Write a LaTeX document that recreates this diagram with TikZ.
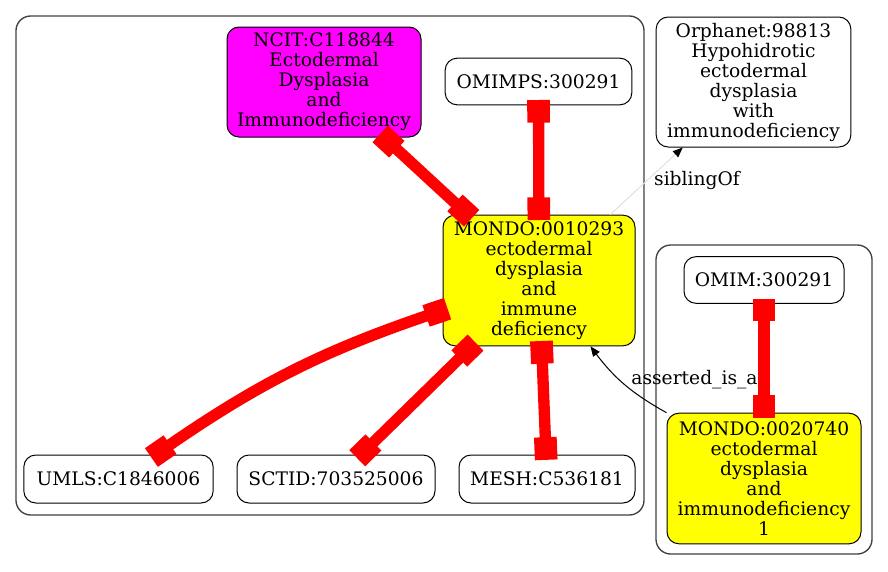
\documentclass[tikz,border=0pt]{standalone}
\usepackage{fontspec}
\setmainfont{DejaVu Serif}
\usepackage{xcolor}
\usepackage{tikz}
\usetikzlibrary{arrows.meta,positioning}
\definecolor{gvred}{HTML}{FF0000}
\definecolor{gvyellow}{HTML}{FFFF00}
\definecolor{gvmagenta}{HTML}{FF00FF}
\definecolor{gvgrey}{HTML}{404040}
\definecolor{gvfaint}{HTML}{E0E0E0}

\begin{document}
\begin{tikzpicture}[
  x=0.75pt, y=-0.75pt,
  font=\fontsize{14}{15}\selectfont,
  n/.style={draw, line width=0.75pt, rounded corners=9pt, align=center, inner sep=0pt, fill=white},
  hit/.style={n, fill=gvyellow},
  ext/.style={n, fill=gvmagenta},
  clu/.style={draw=gvgrey, line width=1pt, rounded corners=11pt},
  xref/.style={draw=gvred, line width=8.5pt, shorten <=-4pt, shorten >=-4pt, {Rectangle[length=17pt,width=17pt]}-{Rectangle[length=17pt,width=17pt]}},
  rel/.style={draw=black, line width=0.75pt, -{Triangle[length=7.5pt,width=6pt]}},
  lbl/.style={inner sep=0pt}
]
\useasboundingbox (0,0) rectangle (888,571);
% clusters
\draw[clu] (16,16) rectangle (644,515);
\draw[clu] (656,245) rectangle (872,554);
% nodes
\node[ext, minimum width=145.5pt, minimum height=82.5pt] (ncit) at (324,82) {NCIT:C118844\\Ectodermal\\Dysplasia\\and\\Immunodeficiency};
\node[n, minimum width=140pt, minimum height=35pt] (omimps) at (538.5,81.5) {OMIMPS:300291};
\node[hit, minimum width=144pt, minimum height=98pt] (mondoa) at (539,280.5) {MONDO:0010293\\ectodermal\\dysplasia\\and\\immune\\deficiency};
\node[n, minimum width=142pt, minimum height=36pt] (umls) at (118.5,479) {UMLS:C1846006};
\node[n, minimum width=148.5pt, minimum height=36pt] (sctid) at (336,479) {SCTID:703525006};
\node[n, minimum width=132pt, minimum height=36pt] (mesh) at (547,479) {MESH:C536181};
\node[n, minimum width=146pt, minimum height=97.5pt] (orpha) at (753.5,82) {Orphanet:98813\\Hypohidrotic\\ectodermal\\dysplasia\\with\\immunodeficiency};
\node[n, minimum width=120pt, minimum height=35pt] (omim) at (764,280) {OMIM:300291};
\node[hit, minimum width=145.5pt, minimum height=98pt] (mondob) at (764,478.5) {MONDO:0020740\\ectodermal\\dysplasia\\and\\immunodeficiency\\1};
% edges
\draw[xref] (ncit) -- (mondoa);
\draw[xref] (omimps) -- (mondoa);
\draw[xref] (umls) to[bend left=8] (mondoa);
\draw[xref] (sctid) -- (mondoa);
\draw[xref] (mesh) -- (mondoa);
\draw[xref] (omim) -- (mondob);
\draw[rel, draw=gvfaint, -{Triangle[length=7.5pt,width=6pt,fill=black,color=black]}] (mondoa) -- (orpha);
\draw[rel] (mondob.north west) to[bend left=12] (mondoa.-52);
% labels
\node[lbl] (lsib) at (697,180) {siblingOf};
\node[lbl] (lisa) at (694.5,380) {asserted\_is\_a};
\end{tikzpicture}
\end{document}
